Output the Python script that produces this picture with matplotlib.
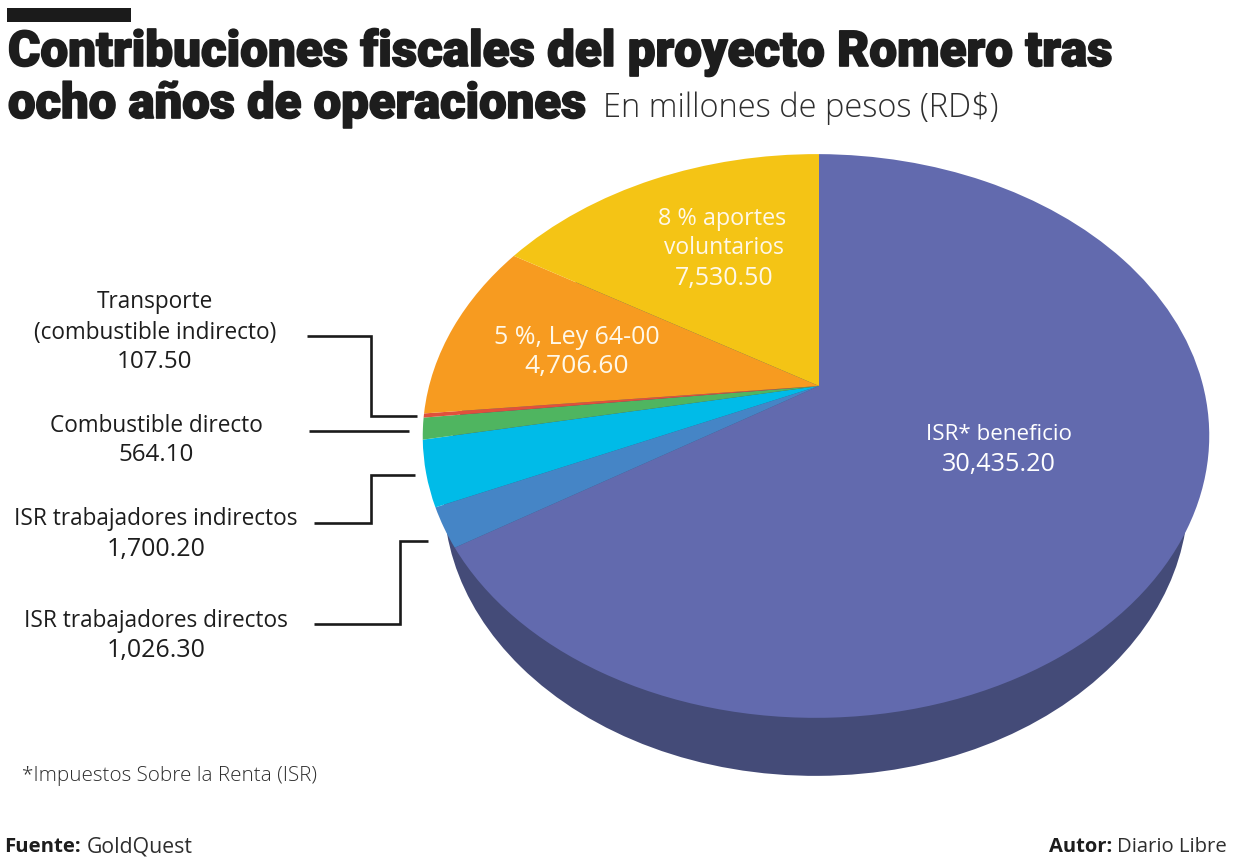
import numpy as np
import matplotlib
matplotlib.use("Agg")
import matplotlib.pyplot as plt
from matplotlib.patches import Circle, Rectangle
from matplotlib.transforms import Transform, Affine2D
import matplotlib.patheffects as pe

# --- data ---
categories = ["ISR* beneficio", "ISR trabajadores directos", "ISR trabajadores indirectos",
              "Combustible directo", "Transporte (combustible indirecto)", "5 %, Ley 64-00",
              "8 % aportes voluntarios"]
values = [30435.20, 1026.30, 1700.20, 564.10, 107.50, 4706.60, 7530.50]
colors = ["#626aae", "#4585c6", "#00bbe8", "#4fb560", "#e0503c", "#f79b20", "#f4c415"]
side_color = "#444b78"

BODY = "Open Sans"
W, H = 1237, 863
fig = plt.figure(figsize=(W / 100, H / 100), dpi=100, facecolor="white")
ax = fig.add_axes([0, 0, 1, 1])


class Perspective(Transform):
    """Unit pie disc seen in perspective, in pixel coordinates of the page."""
    input_dims = output_dims = 2
    has_inverse = False

    def __init__(self, cx=819, cy=386, a=387, b=273, k=0.1773, m=0.0075):
        super().__init__()
        self.p = (cx, cy, a, b, k, m)

    def transform_non_affine(self, xy):
        cx, cy, a, b, k, m = self.p
        xy = np.asarray(xy, float)
        x, y = xy[:, 0], xy[:, 1]
        d = 1 + k * y + m * x
        return np.column_stack([cx + a * x / d, cy - b * y / d])


persp = Perspective()

wedges, _ = ax.pie(values, colors=colors, startangle=90, counterclock=False, radius=1)

ax.set_aspect("auto")
ax.set_xlim(0, W)
ax.set_ylim(H, 0)
ax.axis("off")

# thickness of the pie: the base disc, lower and narrower than the top face
base = Affine2D().translate(-816, -436).scale(0.9466, 0.993).translate(816, 496)
ax.add_patch(Circle((0, 0), 1, facecolor=side_color, edgecolor="none",
                    transform=persp + base + ax.transData, zorder=1))

for w in wedges:
    w.set_transform(persp + ax.transData)
    w.set_edgecolor("none")
    w.set_zorder(2)

# header
ax.add_patch(Rectangle((7, 8), 124, 14, facecolor="#1b1b1b", edgecolor="none"))
stroke = [pe.withStroke(linewidth=1.2, foreground="#1d1d1d")]
ax.text(8, 66, "Contribuciones fiscales del proyecto Romero tras", fontsize=35.55, family="Roboto",
        fontweight=900, color="#1d1d1d", va="baseline", ha="left", path_effects=stroke)
ax.text(8, 118, "ocho años de operaciones", fontsize=35.3, family="Roboto",
        fontweight=900, color="#1d1d1d", va="baseline", ha="left", path_effects=stroke)
ax.text(603, 117, "En millones de pesos (RD$)", fontsize=23.5, family=BODY, fontweight=300,
        color="#2e2e2e", va="baseline", ha="left")

# outside labels
def lab(x, y, s, fs=16.3, c="#1d1d1d", z=3):
    ax.text(x, y, s, fontsize=fs, family=BODY, color=c, ha="center", va="center", zorder=z)

lab(155, 302, "Transporte")
lab(155, 333, "(combustible indirecto)")
lab(155, 362, "107.50", 17.4)
lab(156, 426, "Combustible directo")
lab(156, 455, "564.10", 17.4)
lab(156, 519, "ISR trabajadores indirectos")
lab(156, 549, "1,700.20", 18)
lab(156, 621, "ISR trabajadores directos")
lab(156, 650, "1,026.30", 18)

# labels on the pie
cream = "#fff8e8"
lab(999, 434, "ISR* beneficio", 16.1, "white")
lab(999, 464, "30,435.20", 18.2, "white")
lab(577, 337, "5 %, Ley 64-00", 18, cream)
lab(577, 366, "4,706.60", 19, cream)
lab(722, 219, "8 % aportes", 16.8, cream)
lab(724, 248, "voluntarios", 16.5, cream)
lab(724, 278, "7,530.50", 18, cream)

# leader lines
lk = dict(color="#1a1a1a", lw=1.9, solid_joinstyle="miter", solid_capstyle="butt")
ax.plot([307, 371, 371, 417], [336, 336, 416, 416], **lk)
ax.plot([309, 409], [431, 431], **lk)
ax.plot([415, 371, 371, 314], [475, 475, 523, 523], **lk)
ax.plot([428, 400, 400, 314], [541, 541, 624, 624], **lk)

# footer
ax.text(22, 781, "*Impuestos Sobre la Renta (ISR)", fontsize=14.9, family=BODY, fontweight=300,
        color="#2e2e2e", va="baseline", ha="left")
ax.text(4, 852, "Fuente:", fontsize=14.7, family=BODY, fontweight="bold", color="#1d1d1d", va="baseline", ha="left")
ax.text(87, 852, "GoldQuest", fontsize=15.3, family=BODY, color="#2e2e2e", va="baseline", ha="left")
ax.text(1049, 852, "Autor:", fontsize=14.5, family=BODY, fontweight="bold", color="#1d1d1d", va="baseline", ha="left")
ax.text(1227, 852, "Diario Libre", fontsize=14.6, family=BODY, color="#2e2e2e", va="baseline", ha="right")

fig.savefig("out.png", dpi=100, facecolor="white")
